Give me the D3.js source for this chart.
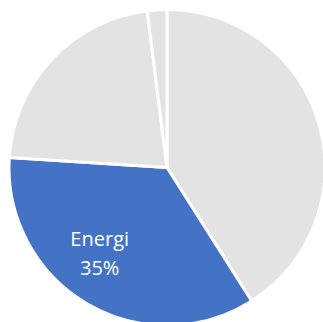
<!DOCTYPE html>
<html><head><meta charset="utf-8">
<script src="https://cdn.jsdelivr.net/npm/d3@7"></script>
<style>html,body{margin:0;padding:0;background:#fff;overflow:hidden}</style>
</head><body>
<svg id="chart" width="323" height="322"></svg>
<script>
const categories = ["Andet A", "Energi", "Andet B", "Andet C"];
const values = [41, 35, 22, 2];
const colors = ["#e3e3e3", "#4472c4", "#e3e3e3", "#e3e3e3"];
const labels = [null, ["Energi", "35%"], null, null];

const svg = d3.select("#chart");
const cx = 167, cy = 167.5, r = 158;
const g = svg.append("g").attr("transform", `translate(${cx},${cy})`);
const pie = d3.pie().sort(null).value(d => d)(values);
const arc = d3.arc().innerRadius(0).outerRadius(r);
g.selectAll("path").data(pie).enter().append("path")
  .attr("d", arc)
  .attr("fill", (d,i) => colors[i])
  .attr("stroke", "#fff").attr("stroke-width", 3).attr("stroke-linejoin", "round");
const la = d3.arc().innerRadius(r*0.7).outerRadius(r*0.7);
pie.forEach((d,i) => {
  if (!labels[i]) return;
  const [x0,y0] = la.centroid(d);
  const x = x0 - 11, y = y0 - 9;
  const t = g.append("text").attr("text-anchor","middle")
    .attr("font-family","'Open Sans', sans-serif").attr("font-size",20).attr("fill","#fff");
  labels[i].forEach((s,k) => t.append("tspan").attr("x", x).attr("y", y + (k-0.5)*29 + 7).text(s));
});
</script>
</body></html>
